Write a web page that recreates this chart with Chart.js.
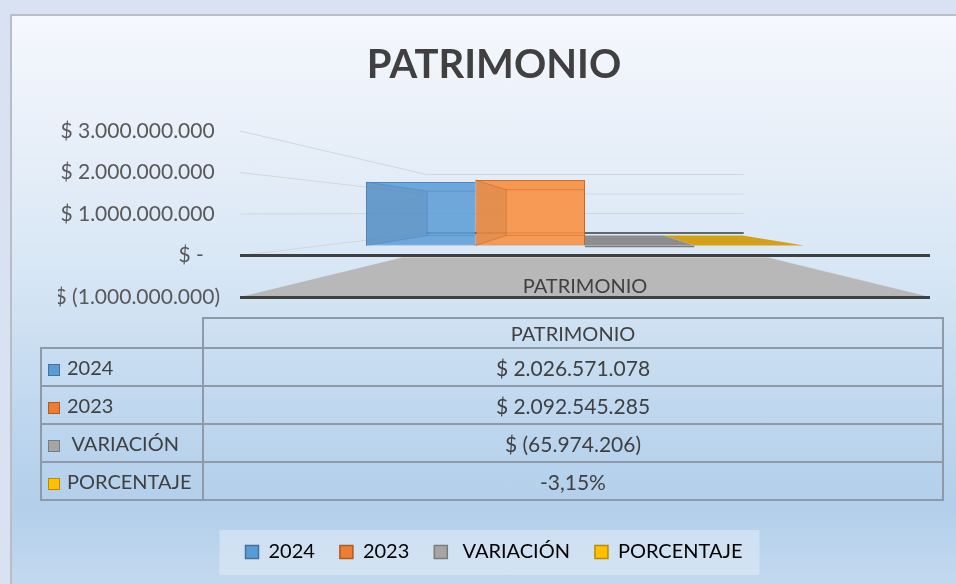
<!DOCTYPE html>
<html>
<head>
<meta charset="utf-8">
<title>Patrimonio</title>
<script src="https://cdn.jsdelivr.net/npm/chart.js@4.4.1/dist/chart.umd.min.js"></script>
<style>
  html, body { margin: 0; padding: 0; }
  body { width: 956px; height: 584px; overflow: hidden; position: relative; background: #d9e2f2; font-family: Lato, sans-serif; }
  #frame {
    position: absolute; left: 10px; top: 14px; width: 960px; height: 572px;
    border-left: 2px solid #b9bec6; border-top: 2px solid #b9bec6;
    background: linear-gradient(to bottom, #f5f8fd 0%, #e9f0f9 20%, #d7e6f5 45%, #c0d8ef 68%, #b3cfeb 85%, #c3d9ef 100%);
  }
  #grafico { position: absolute; left: 0; top: 0; }
  #tabla {
    position: absolute; left: 40px; top: 317px; width: 902px; table-layout: fixed;
    border-collapse: collapse; font: 20px Lato, sans-serif; color: #404040;
  }
  #tabla td { border: 2px solid #8e9aa7; padding: 0; text-align: center; white-space: pre; }
  #tabla td.num { font-size: 21px; }
  #tabla tr { height: 38px; }
  #tabla tr.head { height: 30px; }
  #tabla td.corner { border-top: none; border-left: none; }
  #tabla td.name { text-align: left; padding-left: 6px; }
  .key { display: inline-block; width: 10px; height: 10px; border: 1.5px solid; margin-right: 7px; vertical-align: -1px; }
</style>
</head>
<body>
<div id="frame"></div>
<canvas id="grafico" width="956" height="584"></canvas>
<table id="tabla">
  <colgroup><col style="width:162px"><col style="width:740px"></colgroup>
  <tbody id="filas"></tbody>
</table>
<script>
const categories = ['PATRIMONIO'];
const seriesNames = ['2024', '2023', ' VARIACIÓN', 'PORCENTAJE'];
const values2024 = [2026571078];
const values2023 = [2092545285];
const valuesVariacion = [-65974206];
const valuesPorcentaje = [-0.0315];
const yTicks = [-1000000000, 0, 1000000000, 2000000000, 3000000000];

const seriesValues = [values2024, values2023, valuesVariacion, valuesPorcentaje];

// colores
const barFill = ['rgba(91,155,213,0.85)', 'rgba(247,146,70,0.92)', '#8f8f8f', '#d6a21a'];
const barEdge = ['#4a86c4', '#cc661e', '#7a7a7a', '#c0900f'];
const faceTop = ['rgba(91,155,213,0.15)', 'rgba(247,146,70,0.15)', '#8d8d8d', '#d4a017'];
const keyFill = ['#5b9bd5', '#ed7d31', '#a5a5a5', '#ffc000'];
const keyEdge = ['#41719c', '#ae5a21', '#7b7b7b', '#bc8c00'];

function miles(n) {
  return String(Math.round(Math.abs(n))).replace(/\B(?=(\d{3})+(?!\d))/g, '.');
}

function money(v) {
  if (v === 0) return '$ -   ';
  if (v < 0) return '$ (' + miles(v) + ')';
  return '$ ' + miles(v) + ' ';
}

function percent(v) {
  return (v * 100).toFixed(2).replace('.', ',') + '%';
}

// tabla de datos
let filas = '<tr class="head"><td class="corner"></td><td>' + categories[0] + '</td></tr>';
seriesNames.forEach((name, i) => {
  const v = seriesValues[i][0];
  const txt = i === 3 ? percent(v) : money(v).trim();
  filas += '<tr><td class="name"><span class="key" style="background:' + keyFill[i] +
    ';border-color:' + keyEdge[i] + '"></span>' + name + '</td><td class="num">' + txt + '</td></tr>';
});
document.getElementById('filas').innerHTML = filas;

// piso, paredes y fondo de la leyenda
const escena3d = {
  id: 'escena3d',
  beforeDraw(chart) {
    const { ctx, chartArea: a, scales } = chart;
    const cx = (a.left + a.right) / 2;
    ctx.save();

    const hb = chart.legend.legendHitBoxes;
    if (hb && hb.length) {
      const first = hb[0], last = hb[hb.length - 1];
      const mid = first.top + first.height / 2;
      ctx.fillStyle = 'rgba(255,255,255,0.3)';
      ctx.fillRect(first.left - 26, mid - 22, last.left + last.width + 17 - (first.left - 26), 45);
    }

    const f0 = scales.y.getPixelForValue(0) + 2;
    const f1 = scales.y.getPixelForValue(yTicks[0]);
    const kf = 0.53;
    ctx.fillStyle = '#b8b8b8';
    ctx.beginPath();
    ctx.moveTo(a.left, f1);
    ctx.lineTo(a.right, f1);
    ctx.lineTo(cx + (a.right - cx) * kf, f0);
    ctx.lineTo(cx - (cx - a.left) * kf, f0);
    ctx.closePath();
    ctx.fill();

    const kw = 0.46;
    const bl = cx - (cx - a.left) * kw, br = cx + (a.right - cx) * kw;
    yTicks.filter(v => v >= 0).forEach(v => {
      const yf = scales.y.getPixelForValue(v);
      const yb = scales.yb.getPixelForValue(v);
      ctx.strokeStyle = '#d2d6db';
      ctx.lineWidth = 1;
      ctx.beginPath();
      ctx.moveTo(a.left, yf);
      ctx.lineTo(bl, yb);
      ctx.lineTo(br, yb);
      ctx.stroke();
      if (v === 0) {
        ctx.strokeStyle = '#5f6770';
        ctx.lineWidth = 2;
        ctx.beginPath();
        ctx.moveTo(bl, yb);
        ctx.lineTo(br, yb);
        ctx.stroke();
      }
    });
    ctx.restore();
  },
  afterDatasetsDraw(chart) {
    const { ctx, chartArea: a, scales } = chart;
    const cx = (a.left + a.right) / 2;
    const kb = 0.72;
    chart.data.datasets.forEach((ds, i) => {
      chart.getDatasetMeta(i).data.forEach((bar, j) => {
        const v = ds.data[j];
        const l = bar.x - bar.width / 2, r = bar.x + bar.width / 2;
        const top = Math.min(bar.y, bar.base), bot = Math.max(bar.y, bar.base);
        const back = (p, val) => p + (scales.yb.getPixelForValue(val) - p) * 0.8;
        const bTop = back(top, Math.max(v, 0));
        const bBot = back(bot, Math.min(v, 0));
        const bl = cx + (l - cx) * kb, br = cx + (r - cx) * kb;
        ctx.save();
        ctx.beginPath();
        ctx.rect(0, 0, r, chart.height);
        ctx.clip();
        ctx.fillStyle = faceTop[i];
        ctx.beginPath();
        ctx.moveTo(l, top);
        ctx.lineTo(r, top);
        ctx.lineTo(br, bTop);
        ctx.lineTo(bl, bTop);
        ctx.closePath();
        ctx.fill();
        if (bot - top > 10) {
          ctx.fillStyle = 'rgba(0,0,0,0.07)';
          ctx.beginPath();
          ctx.moveTo(l, top);
          ctx.lineTo(bl, bTop);
          ctx.lineTo(bl, bBot);
          ctx.lineTo(l, bot);
          ctx.closePath();
          ctx.fill();
          ctx.strokeStyle = barEdge[i];
          ctx.globalAlpha = 0.55;
          ctx.lineWidth = 1;
          ctx.strokeRect(bl, bTop, br - bl, bBot - bTop);
          ctx.beginPath();
          ctx.moveTo(l, top); ctx.lineTo(bl, bTop);
          ctx.moveTo(l, bot); ctx.lineTo(bl, bBot);
          ctx.moveTo(r, top); ctx.lineTo(br, bTop);
          ctx.moveTo(r, bot); ctx.lineTo(br, bBot);
          ctx.stroke();
        }
        ctx.restore();
      });
    });
  }
};

Chart.defaults.font.family = 'Lato';

new Chart(document.getElementById('grafico'), {
  type: 'bar',
  data: {
    labels: categories,
    datasets: seriesNames.map((name, i) => ({
      label: name,
      data: seriesValues[i],
      yAxisID: 'y2',
      backgroundColor: barFill[i],
      borderColor: barEdge[i],
      borderWidth: 1,
      borderSkipped: false
    }))
  },
  options: {
    responsive: false,
    animation: false,
    categoryPercentage: 0.635,
    barPercentage: 1,
    layout: { padding: { top: 14, left: 58, right: 26, bottom: 12 } },
    plugins: {
      title: {
        display: true,
        text: 'PATRIMONIO',
        color: '#404040',
        font: { size: 40, weight: 'bold' },
        padding: { top: 27, bottom: 42 }
      },
      legend: {
        position: 'bottom',
        labels: {
          color: '#404040',
          font: { size: 20 },
          boxWidth: 13,
          boxHeight: 13,
          padding: 25,
          generateLabels: (chart) => seriesNames.map((name, i) => ({
            text: name,
            fillStyle: keyFill[i],
            strokeStyle: keyEdge[i],
            lineWidth: 1.5,
            datasetIndex: i,
            hidden: !chart.isDatasetVisible(i)
          }))
        }
      },
      tooltip: { enabled: false }
    },
    scales: {
      x: {
        grid: { display: false, drawTicks: false },
        border: { display: false },
        ticks: { color: '#404040', font: { size: 20 }, mirror: true, padding: -2 },
        afterFit: (s) => { s.height = 220; }
      },
      y: {
        min: yTicks[0],
        max: yTicks[yTicks.length - 1],
        afterBuildTicks: (s) => { s.ticks = yTicks.map(v => ({ value: v })); },
        ticks: { color: '#595959', font: { size: 21 }, padding: 20, callback: (v) => money(v) },
        grid: {
          drawTicks: false,
          lineWidth: 3,
          color: (c) => (c.tick && c.tick.value <= 0 ? '#404040' : 'rgba(0,0,0,0)')
        },
        border: { display: false },
        afterFit: (s) => { s.width = 182; }
      },
      y2: { display: false, min: -1645000000, max: 3658000000 },
      yb: { display: false, min: -3282000000, max: 5231000000 }
    }
  },
  plugins: [escena3d]
});
</script>
</body>
</html>
